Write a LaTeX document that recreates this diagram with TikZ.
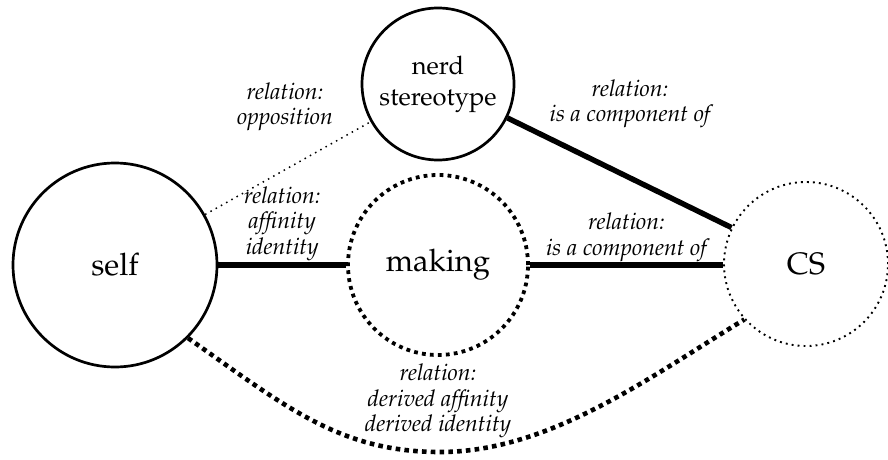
\documentclass[tikz,border=0pt]{standalone}
\usepackage[T1]{fontenc}
\renewcommand{\rmdefault}{ppl}
\begin{document}
\begin{tikzpicture}[x=1pt,y=1pt,
  concept/.style={circle,inner sep=0pt,align=center,font=\fontsize{31}{36}\selectfont},
  solidring/.style={concept,draw,line width=2.7pt},
  dashring/.style={concept,draw,line width=3.8pt,dash pattern=on 3.8pt off 4.2pt},
  dotring/.style={concept,draw,line width=1.9pt,dash pattern=on 1.9pt off 4.1pt},
  rel/.style={align=center,font=\fontsize{23}{25.5}\selectfont\itshape},
  strong/.style={line width=5.4pt},
  faint/.style={line width=1.5pt,dash pattern=on 1.5pt off 4.5pt},
  derived/.style={line width=4.6pt,dash pattern=on 4.6pt off 4.2pt}]
\useasboundingbox (0,0) rectangle (888,459);

% concepts
\node[solidring,minimum size=204pt] (self) at (115,194) {self};
\node[solidring,minimum size=152pt,font=\fontsize{25.5}{31}\selectfont] (nerd) at (438,375) {nerd\\stereotype};
\node[dashring,minimum size=180pt] (making) at (438,194) {making};
\node[dotring,minimum size=164pt] (cs) at (806,195) {CS};

% relations
\draw[faint] (self) -- (nerd);
\node[rel] (lopp) at (285,352) {relation:\\opposition};

\draw[strong] (nerd) -- (cs);
\node[rel] (lcomp1) at (630,355) {relation:\\is a component of};

\draw[strong] (self.east) -- (making.west)
  node[rel,midway,above,inner sep=1.5pt] (laff) {relation:\\affinity\\identity};

\draw[strong] (making.east) -- (cs.west |- making.east)
  node[rel,midway,above,inner sep=0.5pt] (lcomp2) {relation:\\is a component of};

% lowest point of the derived relation
\coordinate (dip) at (440,7);
\draw[derived] (self.-45) .. controls +(98,-69) and +(-100,0) .. (dip)
  .. controls +(110,0) and +(-94,-57) .. (cs.222);
\node[rel] (lder) at (438,58) {relation:\\derived affinity\\derived identity};
\end{tikzpicture}
\end{document}
